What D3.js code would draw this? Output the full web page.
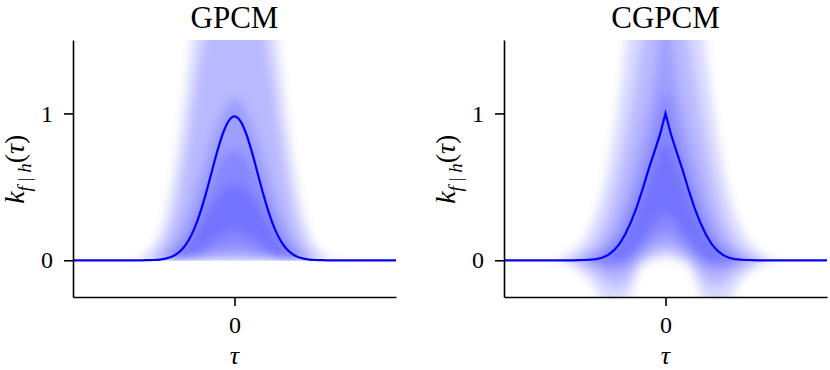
<!DOCTYPE html>
<html>
<head>
<meta charset="utf-8">
<script src="https://cdn.jsdelivr.net/npm/d3@7"></script>
<style>
  body { margin: 0; background: #fff; }
  svg text { font-family: "Liberation Serif", "DejaVu Serif", serif; fill: #000; }
</style>
</head>
<body>
<div id="chart"></div>
<script>
// lag axis for the mean kernels
const tau = [-7, -4, -3.75, -3.5, -3.25, -3, -2.75, -2.5, -2.25, -2, -1.75, -1.5, -1.25, -1, -0.75, -0.5, -0.25,
  0, 0.25, 0.5, 0.75, 1, 1.25, 1.5, 1.75, 2, 2.25, 2.5, 2.75, 3, 3.25, 3.5, 3.75, 4, 7];

const gpcmMean = [0, 0.000, 0.001, 0.002, 0.005, 0.011, 0.022, 0.043, 0.078, 0.133, 0.212, 0.318, 0.449, 0.594, 0.740, 0.865, 0.950,
  0.980, 0.950, 0.865, 0.740, 0.594, 0.449, 0.318, 0.212, 0.133, 0.078, 0.043, 0.022, 0.011, 0.005, 0.002, 0.001, 0.000, 0];

const cgpcmMean = [0, 0.000, 0.001, 0.002, 0.004, 0.008, 0.017, 0.035, 0.065, 0.110, 0.175, 0.260, 0.360, 0.480, 0.610, 0.730, 0.850,
  1.000, 0.850, 0.730, 0.610, 0.480, 0.360, 0.260, 0.175, 0.110, 0.065, 0.035, 0.017, 0.008, 0.004, 0.002, 0.001, 0.000, 0];

// lag axis for the sample spread (quantile bands, outer -> inner)
const bandTau = [-5, -4.5, -4, -3.5, -3, -2.5, -2, -1.5, -1, -0.5, 0, 0.5, 1, 1.5, 2, 2.5, 3, 3.5, 4, 4.5, 5];

const gpcmA_hi = [0, 0.005, 0.03, 0.1, 0.3, 0.7, 1.3, 2.0, 2.4, 2.8, 3.0, 2.8, 2.4, 2.0, 1.3, 0.7, 0.3, 0.1, 0.03, 0.005, 0];
const gpcmA_lo = [0, 0, 0, 0, 0, 0, 0, 0, 0, 0, 0, 0, 0, 0, 0, 0, 0, 0, 0, 0, 0];
const gpcmB_hi = [0, 0, 0, 0.03, 0.12, 0.36, 0.8, 1.35, 1.7, 1.9, 2.0, 1.9, 1.7, 1.35, 0.8, 0.36, 0.12, 0.03, 0, 0, 0];
const gpcmB_lo = [0, 0, 0, 0, 0, 0, 0, 0, 0, 0, 0, 0, 0, 0, 0, 0, 0, 0, 0, 0, 0];
const gpcmC_hi = [0, 0, 0, 0.01, 0.045, 0.14, 0.32, 0.56, 0.82, 1.02, 1.1, 1.02, 0.82, 0.56, 0.32, 0.14, 0.045, 0.01, 0, 0, 0];
const gpcmC_lo = [0, 0, 0, 0, 0, 0, 0, 0.008, 0.015, 0.025, 0.03, 0.025, 0.015, 0.008, 0, 0, 0, 0, 0, 0, 0];
const gpcmD_hi = [0, 0, 0, 0, 0.02, 0.07, 0.18, 0.35, 0.54, 0.7, 0.75, 0.7, 0.54, 0.35, 0.18, 0.07, 0.02, 0, 0, 0, 0];
const gpcmD_lo = [0, 0, 0, 0, 0, 0, 0.012, 0.035, 0.065, 0.09, 0.1, 0.09, 0.065, 0.035, 0.012, 0, 0, 0, 0, 0, 0];
const gpcmE_hi = [0, 0, 0, 0, 0, 0.03, 0.1, 0.23, 0.37, 0.48, 0.52, 0.48, 0.37, 0.23, 0.1, 0.03, 0, 0, 0, 0, 0];
const gpcmE_lo = [0, 0, 0, 0, 0, 0, 0.022, 0.065, 0.13, 0.18, 0.2, 0.18, 0.13, 0.065, 0.022, 0, 0, 0, 0, 0, 0];

const cgpcmA_hi = [0, 0.02, 0.06, 0.15, 0.32, 0.62, 1.1, 1.75, 2.2, 2.7, 3.2, 2.7, 2.2, 1.75, 1.1, 0.62, 0.32, 0.15, 0.06, 0.02, 0];
const cgpcmA_lo = [0, -0.01, -0.04, -0.1, -0.2, -0.35, -0.38, -0.22, -0.03, 0.0, 0.02, 0.0, -0.03, -0.22, -0.38, -0.35, -0.2, -0.1, -0.04, -0.01, 0];
const cgpcmB_hi = [0, 0, 0.015, 0.05, 0.13, 0.3, 0.6, 1.0, 1.5, 2.0, 2.4, 2.0, 1.5, 1.0, 0.6, 0.3, 0.13, 0.05, 0.015, 0, 0];
const cgpcmB_lo = [0, 0, -0.01, -0.04, -0.09, -0.16, -0.18, -0.1, 0.0, 0.045, 0.06, 0.045, 0.0, -0.1, -0.18, -0.16, -0.09, -0.04, -0.01, 0, 0];
const cgpcmC_hi = [0, 0, 0, 0.02, 0.06, 0.14, 0.3, 0.55, 0.85, 1.2, 1.7, 1.2, 0.85, 0.55, 0.3, 0.14, 0.06, 0.02, 0, 0, 0];
const cgpcmC_lo = [0, 0, 0, -0.01, -0.035, -0.07, -0.08, -0.03, 0.04, 0.09, 0.12, 0.09, 0.04, -0.03, -0.08, -0.07, -0.035, -0.01, 0, 0, 0];
const cgpcmD_hi = [0, 0, 0, 0, 0.025, 0.07, 0.17, 0.35, 0.58, 0.85, 1.15, 0.85, 0.58, 0.35, 0.17, 0.07, 0.025, 0, 0, 0, 0];
const cgpcmD_lo = [0, 0, 0, 0, -0.01, -0.03, -0.03, 0.005, 0.08, 0.16, 0.2, 0.16, 0.08, 0.005, -0.03, -0.03, -0.01, 0, 0, 0, 0];
const cgpcmE_hi = [0, 0, 0, 0, 0.01, 0.035, 0.1, 0.23, 0.42, 0.62, 0.8, 0.62, 0.42, 0.23, 0.1, 0.035, 0.01, 0, 0, 0, 0];
const cgpcmE_lo = [0, 0, 0, 0, 0, -0.005, 0.005, 0.05, 0.14, 0.25, 0.32, 0.25, 0.14, 0.05, 0.005, -0.005, 0, 0, 0, 0, 0];

const yTicks = [0, 1];
const xTicks = [0];

const W = 830, H = 370;
const plotTop = 40, plotBottom = 297;
const blue = "#0000ff";
const serif = "'Liberation Serif', 'DejaVu Serif', serif";

const svg = d3.select("#chart").append("svg")
  .attr("width", W)
  .attr("height", H)
  .attr("font-family", serif);

const defs = svg.append("defs");
defs.append("filter")
  .attr("id", "soft")
  .attr("x", "-20%").attr("y", "-20%").attr("width", "140%").attr("height", "140%")
  .append("feGaussianBlur")
  .attr("stdDeviation", 5);

function drawPanel(i, title, left, right, mean, meanCurve, bands, clipAtZero) {
  const x = d3.scaleLinear().domain([-7, 7]).range([left, right]);
  const y = d3.scaleLinear().domain([-0.25, 1.5]).range([plotBottom, plotTop]);

  // clip the spread to the axes box (and above zero for the positive kernel)
  const clipBottom = clipAtZero ? y(0) + 0.5 : plotBottom;
  defs.append("clipPath").attr("id", "clip" + i)
    .append("rect")
    .attr("x", left).attr("y", plotTop)
    .attr("width", right - left).attr("height", clipBottom - plotTop);

  const g = svg.append("g");

  const spread = g.append("g").attr("clip-path", `url(#clip${i})`)
    .append("g").attr("filter", "url(#soft)");

  const area = d3.area()
    .x((d, j) => x(bandTau[j]))
    .y0(d => y(d[0]))
    .y1(d => y(d[1]))
    .curve(d3.curveMonotoneX);

  bands.forEach(b => {
    const pts = b.lo.map((v, j) => [v, b.hi[j]]);
    spread.append("path")
      .attr("d", area(pts))
      .attr("fill", blue)
      .attr("fill-opacity", 0.15);
  });

  // mean kernel
  const line = d3.line()
    .x((d, j) => x(tau[j]))
    .y(d => y(d))
    .curve(meanCurve);
  g.append("path")
    .attr("d", line(mean))
    .attr("fill", "none")
    .attr("stroke", blue)
    .attr("stroke-width", 2.2);

  // axes (left + bottom spines only)
  const yAxis = g.append("g")
    .attr("transform", `translate(${left},0)`)
    .call(d3.axisLeft(y).tickValues(yTicks).tickFormat(d3.format("d")).tickSize(9).tickSizeOuter(0).tickPadding(11));
  const xAxis = g.append("g")
    .attr("transform", `translate(0,${plotBottom})`)
    .call(d3.axisBottom(x).tickValues(xTicks).tickFormat(d3.format("d")).tickSize(9).tickSizeOuter(0));

  [yAxis, xAxis].forEach(a => {
    a.attr("font-family", serif).attr("font-size", 24);
    a.select(".domain").attr("stroke", "#000").attr("stroke-width", 1.6);
    a.selectAll(".tick line").attr("stroke", "#000").attr("stroke-width", 1.6);
    a.selectAll(".tick text").attr("font-size", 24).attr("font-family", serif);
  });
  xAxis.selectAll(".tick text").attr("dy", null).attr("y", 36);

  // title
  g.append("text")
    .attr("x", x(0))
    .attr("y", 28)
    .attr("text-anchor", "middle")
    .attr("font-size", 31)
    .text(title);

  // x label
  g.append("text")
    .attr("x", x(0))
    .attr("y", 364)
    .attr("text-anchor", "middle")
    .attr("font-size", 26)
    .attr("font-style", "italic")
    .text("τ");

  // y label: k_{f | h}(τ)
  const yl = g.append("text")
    .attr("transform", `translate(${left - 49},${y(0.62)}) rotate(-90)`)
    .attr("text-anchor", "middle")
    .attr("font-size", 28);
  yl.append("tspan").attr("font-style", "italic").text("k");
  yl.append("tspan").attr("font-size", 19).attr("dy", 7).attr("font-style", "italic").text("f");
  yl.append("tspan").attr("font-size", 19).text(" | ");
  yl.append("tspan").attr("font-size", 19).attr("font-style", "italic").text("h");
  yl.append("tspan").attr("dy", -7).text("(");
  yl.append("tspan").attr("font-style", "italic").text("τ");
  yl.append("tspan").text(")");
}

drawPanel(0, "GPCM", 73, 396, gpcmMean, d3.curveMonotoneX, [
  { lo: gpcmA_lo, hi: gpcmA_hi },
  { lo: gpcmB_lo, hi: gpcmB_hi },
  { lo: gpcmC_lo, hi: gpcmC_hi },
  { lo: gpcmD_lo, hi: gpcmD_hi },
  { lo: gpcmE_lo, hi: gpcmE_hi }
], true);

drawPanel(1, "CGPCM", 504, 827, cgpcmMean, d3.curveLinear, [
  { lo: cgpcmA_lo, hi: cgpcmA_hi },
  { lo: cgpcmB_lo, hi: cgpcmB_hi },
  { lo: cgpcmC_lo, hi: cgpcmC_hi },
  { lo: cgpcmD_lo, hi: cgpcmD_hi },
  { lo: cgpcmE_lo, hi: cgpcmE_hi }
], false);
</script>
</body>
</html>
